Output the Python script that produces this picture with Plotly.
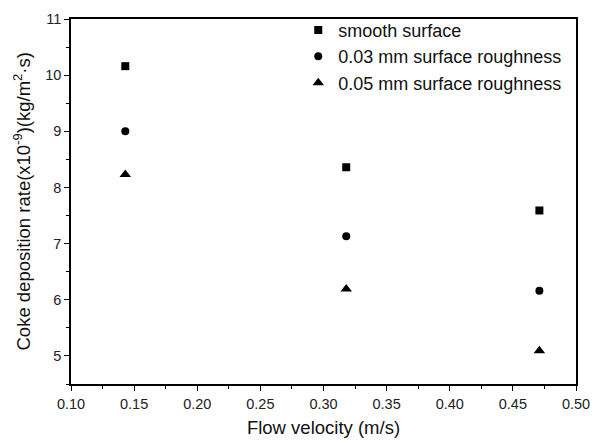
import plotly.graph_objects as go

velocity = [0.143, 0.318, 0.471]
smooth = [10.16, 8.36, 7.59]
rough_003 = [9.00, 7.13, 6.16]
rough_005 = [8.23, 6.19, 5.09]

series_names = ["smooth surface", "0.03 mm surface roughness", "0.05 mm surface roughness"]
symbols = ["square", "circle", "triangle-up"]
sizes = [8, 8, 10]
y_title = "Coke deposition rate(x10<sup>-9</sup>)(kg/m<sup>2</sup>·s)"

fig = go.Figure()
for name, ys, sym, sz in zip(series_names, [smooth, rough_003, rough_005], symbols, sizes):
    fig.add_trace(go.Scatter(x=velocity, y=ys, mode="markers", name=name,
                             marker=dict(symbol=sym, size=sz, color="black")))

font = "Arial, Liberation Sans, sans-serif"
fig.update_layout(
    width=601, height=443,
    margin=dict(l=71, r=25, t=15, b=59),
    paper_bgcolor="white", plot_bgcolor="white",
    font=dict(family=font, color="#222222"),
    showlegend=True,
    legend=dict(x=0.45, y=1.02, xanchor="left", yanchor="top",
                bgcolor="rgba(0,0,0,0)", borderwidth=0,
                font=dict(size=18, family=font, color="#111111"),
                itemsizing="trace", tracegroupgap=0),
    annotations=[dict(text=y_title, xref="paper", yref="paper", x=-0.097, y=0.5,
                      xanchor="center", yanchor="middle", textangle=-90, showarrow=False,
                      font=dict(size=18.5, family=font, color="#111111"))],
)
fig.update_xaxes(
    range=[0.10, 0.50], dtick=0.05, tickformat=".2f",
    automargin=False,
    showgrid=False, zeroline=False,
    showline=True, linecolor="black", linewidth=1.5, mirror=True,
    ticks="outside", ticklen=5, tickwidth=1, tickcolor="black",
    minor=dict(ticks="outside", ticklen=3, dtick=0.025, tickcolor="black"),
    tickfont=dict(size=14.5, family=font, color="#222222"),
    ticklabelstandoff=1,
    title=dict(text="Flow velocity (m/s)", font=dict(size=18.5, family=font, color="#111111"), standoff=10),
)
fig.update_yaxes(
    range=[4.5, 11], dtick=1,
    automargin=False,
    showgrid=False, zeroline=False,
    showline=True, linecolor="black", linewidth=1.5, mirror=True,
    ticks="outside", ticklen=5, tickwidth=1, tickcolor="black",
    minor=dict(ticks="outside", ticklen=3, dtick=0.5, tickcolor="black"),
    tickfont=dict(size=14.5, family=font, color="#222222"),
)

fig.write_html("out.html")
